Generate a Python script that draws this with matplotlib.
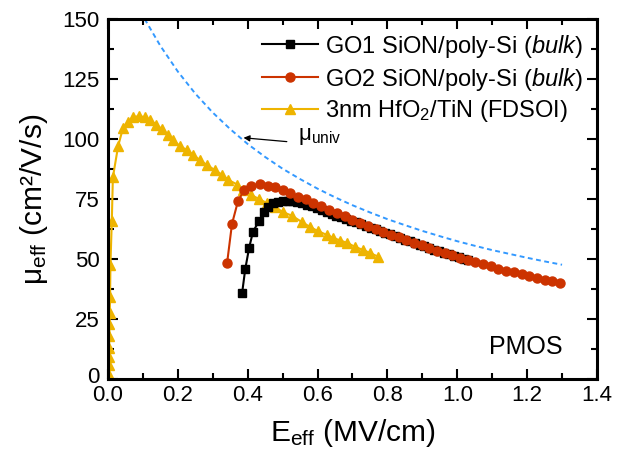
import matplotlib
matplotlib.use("Agg")
import matplotlib.pyplot as plt
from matplotlib.ticker import MultipleLocator
from matplotlib.transforms import ScaledTranslation

plt.rcParams['font.family'] = ['Liberation Sans', 'DejaVu Sans']
plt.rcParams['mathtext.fontset'] = 'custom'
plt.rcParams['mathtext.rm'] = 'Liberation Sans'
plt.rcParams['mathtext.it'] = 'Liberation Sans:italic'
plt.rcParams['mathtext.bf'] = 'Liberation Sans:bold'

# ---- data ----
go1_x = [0.384, 0.393, 0.404, 0.415, 0.433, 0.447, 0.458, 0.473, 0.487, 0.500,
         0.514, 0.528, 0.542, 0.556, 0.570, 0.584, 0.598, 0.612, 0.626, 0.640,
         0.654, 0.668, 0.682, 0.696, 0.710, 0.724, 0.738, 0.752, 0.766, 0.780,
         0.794, 0.808, 0.822, 0.836, 0.850, 0.864, 0.878, 0.892, 0.906, 0.920,
         0.934, 0.948, 0.962, 0.976, 0.990, 1.004, 1.018, 1.032]
go1_y = [35.8, 45.8, 54.6, 61.3, 66.0, 69.6, 71.7, 73.3, 73.9, 74.2,
         74.3, 74.1, 73.7, 73.2, 72.6, 72.0, 71.3, 70.5, 69.6, 68.9,
         68.1, 67.4, 66.8, 65.9, 65.3, 64.6, 63.8, 63.1, 62.4, 61.7,
         61.0, 60.3, 59.6, 58.8, 58.1, 57.4, 56.7, 56.0, 55.4, 54.6,
         53.9, 53.2, 52.6, 52.0, 51.3, 50.7, 50.1, 49.5]

go2_x = [0.341, 0.355, 0.372, 0.390, 0.410, 0.435, 0.458, 0.478, 0.500, 0.520,
         0.544, 0.566, 0.588, 0.610, 0.634, 0.656, 0.678, 0.700, 0.722, 0.744,
         0.766, 0.788, 0.810, 0.832, 0.854, 0.876, 0.898, 0.920, 0.942, 0.964,
         0.986, 1.008, 1.030, 1.052, 1.074, 1.096, 1.118, 1.140, 1.162, 1.184,
         1.206, 1.228, 1.250, 1.272, 1.294]
go2_y = [48.3, 64.6, 74.0, 78.8, 80.4, 81.3, 80.4, 80.0, 78.8, 77.5,
         76.0, 75.0, 73.5, 72.0, 70.5, 69.0, 67.8, 66.4, 65.2, 63.8,
         62.6, 61.4, 60.2, 59.0, 57.9, 56.8, 55.7, 54.6, 53.5, 52.5,
         51.5, 50.5, 49.6, 48.6, 47.8, 46.9, 46.0, 45.2, 44.4, 43.6,
         42.8, 42.1, 41.4, 40.7, 40.1]

fdsoi_x = [0.001, 0.002, 0.003, 0.003, 0.004, 0.004, 0.005, 0.006, 0.007, 0.011,
           0.014, 0.029, 0.043, 0.057, 0.072, 0.089, 0.106, 0.120, 0.138, 0.155,
           0.172, 0.186, 0.206, 0.226, 0.244, 0.264, 0.284, 0.307, 0.327, 0.344,
           0.370, 0.387, 0.410, 0.432, 0.455, 0.478, 0.500, 0.527, 0.555, 0.579,
           0.600, 0.627, 0.645, 0.665, 0.685, 0.708, 0.730, 0.750, 0.773]
fdsoi_y = [2.5, 6.0, 9.0, 13.0, 18.0, 23.0, 27.5, 34.0, 47.5, 66.0,
           84.0, 97.0, 104.6, 107.0, 109.0, 109.6, 109.0, 108.0, 106.0, 104.0,
           101.7, 99.6, 97.0, 95.4, 93.3, 91.2, 89.0, 87.0, 85.0, 83.0,
           81.0, 78.8, 76.7, 75.0, 73.3, 71.7, 69.6, 68.0, 65.4, 63.3,
           61.7, 60.0, 58.8, 57.7, 56.7, 55.0, 53.8, 52.5, 51.0]

univ_x = [0.105, 0.15, 0.20, 0.25, 0.30, 0.35, 0.40, 0.45, 0.50, 0.55, 0.60,
          0.65, 0.70, 0.75, 0.80, 0.85, 0.90, 0.95, 1.00, 1.05, 1.10, 1.15,
          1.20, 1.25, 1.30]
univ_y = [150.0, 138.8, 128.1, 118.9, 111.0, 104.1, 97.9, 92.5, 87.6, 83.3, 79.3,
          75.7, 72.4, 69.4, 66.6, 64.1, 61.7, 59.5, 57.4, 55.5, 53.7, 52.1,
          50.5, 49.0, 47.6]

labels = [r"GO1 SiON/poly-Si ($\mathit{bulk}$)",
          r"GO2 SiON/poly-Si ($\mathit{bulk}$)",
          r"3nm HfO$_2$/TiN (FDSOI)"]

c_black = "#000000"
c_red = "#CC3300"
c_yellow = "#EEB400"
c_blue = "#3399FF"

fig = plt.figure(figsize=(6.3, 4.62), dpi=100)
ax = fig.add_axes([0.1714, 0.1797, 0.7762, 0.7792])

ax.plot(univ_x, univ_y, color=c_blue, lw=1.4, ls=(0, (2.5, 1.8)), zorder=1)
ax.plot(fdsoi_x, fdsoi_y, color=c_yellow, lw=1.5, marker='^', ms=7.5,
        mec=c_yellow, mfc=c_yellow, label=labels[2], zorder=2)
ax.plot(go1_x, go1_y, color=c_black, lw=1.5, marker='s', ms=5.5,
        mec=c_black, mfc=c_black, label=labels[0], zorder=3)
ax.plot(go2_x, go2_y, color=c_red, lw=1.5, marker='o', ms=6.5,
        mec=c_red, mfc=c_red, label=labels[1], zorder=4)

ax.annotate("", xy=(0.388, 100.5), xytext=(0.512, 98.9),
            arrowprops=dict(arrowstyle='-|>', color='black', lw=0.9,
                            mutation_scale=9, shrinkA=0, shrinkB=0))
ax.text(0.544, 99.6, r"μ$_{\mathrm{univ}}$", fontsize=16, ha='left', va='baseline')
ax.text(1.09, 13.5, "PMOS", fontsize=18, ha='left', va='center')

ax.set_xlim(0, 1.4)
ax.set_ylim(0, 150)
ax.xaxis.set_minor_locator(MultipleLocator(0.1))
ax.set_yticks([0, 25, 50, 75, 100, 125, 150])
ax.yaxis.set_minor_locator(MultipleLocator(12.5))
ax.set_xticks([0, 0.2, 0.4, 0.6, 0.8, 1.0, 1.2, 1.4])
ax.set_xticklabels(["0.0", "0.2", "0.4", "0.6", "0.8", "1.0", "1.2", "1.4"])

ax.tick_params(which='both', direction='in', top=True, right=True, width=1.5)
ax.tick_params(which='major', length=7)
ax.tick_params(which='minor', length=4)
ax.tick_params(axis='x', which='major', labelsize=16, pad=4)
ax.tick_params(axis='y', which='major', labelsize=16, pad=6)
for lab in ax.get_yticklabels():
    lab.set_verticalalignment('center_baseline')
t0 = ax.yaxis.get_major_ticks()[0].label1
t0.set_transform(t0.get_transform() + ScaledTranslation(0, 3 / 72, fig.dpi_scale_trans))
for s in ax.spines.values():
    s.set_linewidth(2.2)

ax.set_xlabel(r"E$_{\mathrm{eff}}$ (MV/cm)", fontsize=21.5, labelpad=8)
ax.set_ylabel(r"μ$_{\mathrm{eff}}$ (cm²/V/s)", fontsize=21.5, labelpad=9)

h, l = ax.get_legend_handles_labels()
hd = {lab: hh for hh, lab in zip(h, l)}
ax.legend([hd[lab] for lab in labels], labels, loc='upper left',
          bbox_to_anchor=(0.314, 0.962), frameon=False, fontsize=17,
          handlelength=2.4, handletextpad=0.3, labelspacing=0.25,
          borderpad=0, borderaxespad=0, numpoints=1)

fig.savefig("out.png", dpi=100)
